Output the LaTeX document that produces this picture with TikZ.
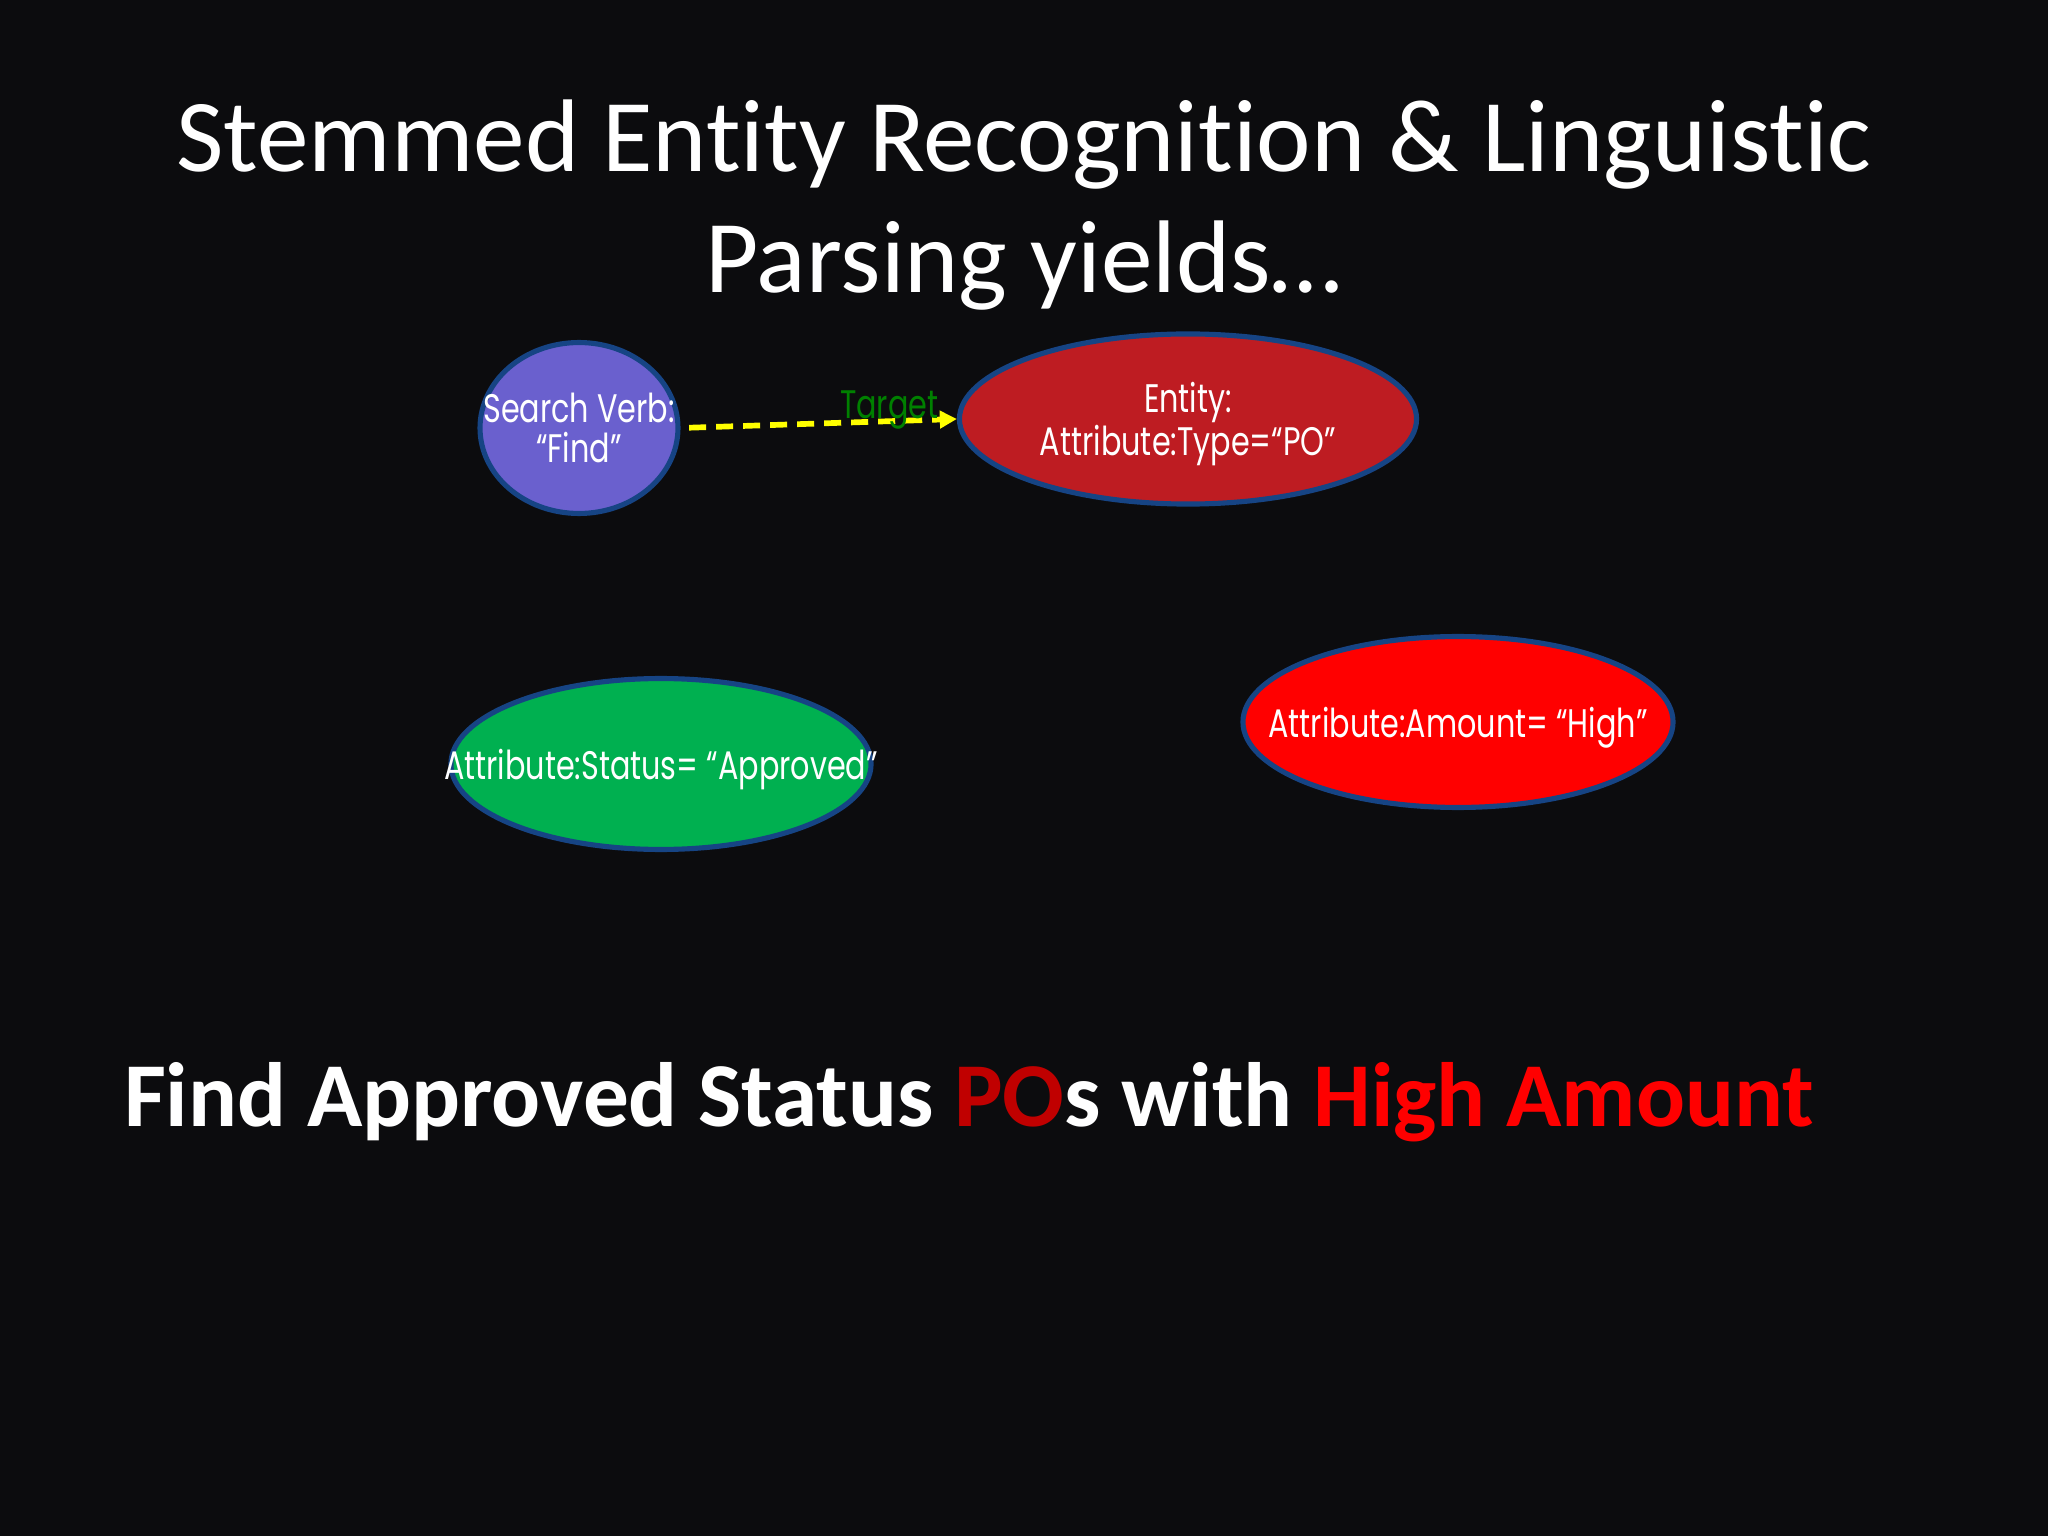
\documentclass[tikz,border=0pt]{standalone}
\usepackage{fontspec}
\setmainfont[Ligatures=NoCommon]{Carlito}
\newfontfamily\geo[FakeStretch=0.76]{Poppins}
\usetikzlibrary{shapes.geometric,arrows.meta}
\definecolor{bg}{RGB}{12,12,14}
\definecolor{edge}{RGB}{22,68,132}
\definecolor{verbc}{RGB}{106,96,206}
\definecolor{entc}{RGB}{190,28,34}
\definecolor{grnc}{RGB}{0,176,80}
\definecolor{amtc}{RGB}{255,0,0}
\definecolor{tgtc}{RGB}{0,128,0}
\definecolor{pored}{RGB}{192,0,0}
\definecolor{arrc}{RGB}{255,255,0}
\newcommand\zw[1]{\makebox[0pt]{#1}}
\begin{document}
\begin{tikzpicture}[x=0.3515625pt,y=-0.3515625pt,
  ell/.style={ellipse, draw=edge, line width=1.8pt, inner sep=0pt, text=white,
    text depth=0pt, font=\geo\fontsize{14}{14}\selectfont, align=center},
  arr/.style={draw=arrc, line width=2pt, dash pattern=on 6pt off 3.5pt,
    shorten <=3pt, -{Triangle[length=6pt,width=6pt]}},
  title/.style={text=white, font=\fontsize{36.3}{42.7}\selectfont, align=center},
  summary/.style={text=white, font=\bfseries\fontsize{32.1}{38}\selectfont}
]
\fill[bg] (0,0) rectangle (2048,1536);
\useasboundingbox (0,0) rectangle (2048,1536);

\node[title] (ttl) at (1024,205) {Stemmed Entity Recognition \& Linguistic\\Parsing yields…};

\node[ell, fill=verbc, minimum width=69.6pt, minimum height=60.1pt] (verb) at (579,428)
  {\zw{Search Verb:}\\\zw{“Find”}};
\node[ell, fill=entc, minimum width=160.7pt, minimum height=59.8pt] (entity) at (1188,419)
  {\zw{Entity:}\\\zw{Attribute:Type=“PO”}};
\node[ell, fill=grnc, minimum width=147.7pt, minimum height=60.1pt] (status) at (661,764)
  {\zw{Attribute:Status= “Approved”}};
\node[ell, fill=amtc, minimum width=151.2pt, minimum height=60.1pt] (amount) at (1458,722)
  {\zw{Attribute:Amount= “High”}};

\draw[arr] (verb.east) -- (entity.west)
  node[pos=0.755, yshift=4pt, text=tgtc, font=\geo\fontsize{14}{14}\selectfont] (tgt) {Target};

\node[summary, anchor=base west] (sum) at (114,1126)
  {Find Approved Status {\color{pored}PO}s with {\color{amtc}High Amount}};
\end{tikzpicture}
\end{document}
